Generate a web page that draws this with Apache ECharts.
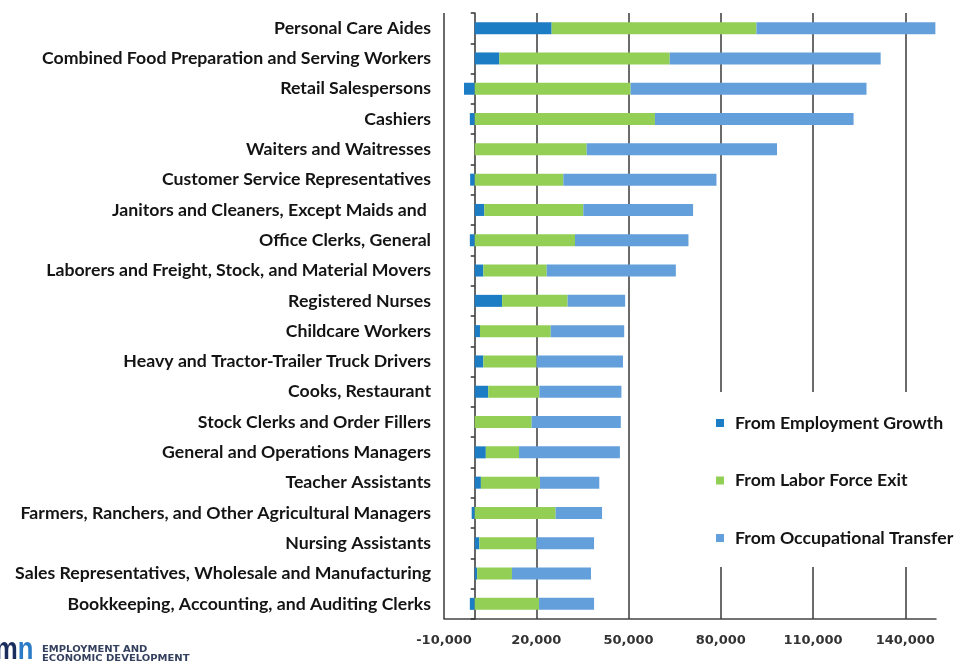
<!DOCTYPE html>
<html>
<head>
<meta charset="utf-8">
<script src="https://cdn.jsdelivr.net/npm/echarts@6/dist/echarts.min.js"></script>
<style>
  html, body { margin: 0; padding: 0; background: #fff; }
  #chart { width: 956px; height: 669px; }
</style>
</head>
<body>
<div id="chart"></div>
<script>
// Occupations, top to bottom
const occupations = [
  'Personal Care Aides',
  'Combined Food Preparation and Serving Workers',
  'Retail Salespersons',
  'Cashiers',
  'Waiters and Waitresses',
  'Customer Service Representatives',
  'Janitors and Cleaners, Except Maids and ',
  'Office Clerks, General',
  'Laborers and Freight, Stock, and Material Movers',
  'Registered Nurses',
  'Childcare Workers',
  'Heavy and Tractor-Trailer Truck Drivers',
  'Cooks, Restaurant',
  'Stock Clerks and Order Fillers',
  'General and Operations Managers',
  'Teacher Assistants',
  'Farmers, Ranchers, and Other Agricultural Managers',
  'Nursing Assistants',
  'Sales Representatives, Wholesale and Manufacturing',
  'Bookkeeping, Accounting, and Auditing Clerks'
];

// Projected openings by source
const employmentGrowth = [25000, 8000, -3500, -1600, 0, -1500, 3100, -1600, 2800, 8900,
                          1700, 2800, 4400, 0, 3600, 2000, -1000, 1500, 800, -1600];
const laborForceExit   = [66600, 55400, 50700, 58600, 36400, 28800, 32200, 32600, 20600, 21300,
                          23000, 17300, 16600, 18500, 10800, 19200, 26300, 18600, 11300, 20900];
const occupationalTransfer = [58200, 68600, 76700, 64600, 61900, 49800, 35700, 36900, 42000, 18700,
                          23900, 28100, 26700, 29000, 32800, 19300, 15100, 18700, 25700, 17900];

const seriesNames = ['From Employment Growth', 'From Labor Force Exit', 'From Occupational Transfer'];

// Value axis range and step
const axisMin = -10000;
const axisMax = 150000;
const axisStep = 30000;

const labelFont = 'Lato, "Open Sans", sans-serif';

const chart = echarts.init(document.getElementById('chart'), null, { renderer: 'canvas' });

const barStyle = { barWidth: 12, stack: 'openings' };

chart.setOption({
  animation: false,
  backgroundColor: '#ffffff',
  grid: { left: 444, right: 20, top: 13, bottom: 50, containLabel: false },
  xAxis: {
    type: 'value',
    min: axisMin,
    max: axisMax,
    interval: axisStep,
    axisLine: { show: true, lineStyle: { color: '#444', width: 1.5 } },
    axisTick: { show: false },
    axisLabel: {
      showMaxLabel: false,
      margin: 15,
      color: '#333',
      fontFamily: '"DejaVu Sans", sans-serif',
      fontWeight: 'bold',
      fontSize: 13,
      formatter: v => v.toLocaleString('en-US')
    },
    splitLine: {
      show: true,
      showMaxLine: false,
      lineStyle: { color: '#3a3a3a', width: 1.5 }
    }
  },
  yAxis: {
    type: 'category',
    inverse: true,
    data: occupations,
    axisLine: { show: true, onZero: true, lineStyle: { color: '#333', width: 1.5 } },
    axisTick: { show: true, length: 4, lineStyle: { color: '#333', width: 1.5 } },
    axisLabel: {
      margin: 13,
      color: '#141414',
      fontFamily: labelFont,
      fontWeight: 'bold',
      fontSize: 17.7
    }
  },
  legend: {
    orient: 'vertical',
    left: 712,
    top: 392,
    padding: [22, 16, 20, 4],
    backgroundColor: '#ffffff',
    icon: 'rect',
    itemWidth: 8,
    itemHeight: 8,
    itemGap: 39.5,
    data: seriesNames,
    textStyle: {
      color: '#141414',
      fontFamily: labelFont,
      fontWeight: 'bold',
      fontSize: 17.7,
      lineHeight: 17,
      padding: [0, 0, 0, 6]
    }
  },
  series: [
    Object.assign({ type: 'bar', name: seriesNames[0], data: employmentGrowth,
      itemStyle: { color: '#1c7dc4' } }, barStyle),
    Object.assign({ type: 'bar', name: seriesNames[1], data: laborForceExit,
      itemStyle: { color: '#93cf55' } }, barStyle),
    Object.assign({ type: 'bar', name: seriesNames[2], data: occupationalTransfer,
      itemStyle: { color: '#639fdb' } }, barStyle)
  ],
  graphic: [
    {
      type: 'text', x: -5, y: 634, scaleX: 0.8,
      style: {
        text: '{a|m}{b|n}',
        rich: {
          a: { fontFamily: '"Liberation Sans", sans-serif', fontWeight: 'bold', fontSize: 32, fill: '#1b2d5c' },
          b: { fontFamily: '"Liberation Sans", sans-serif', fontWeight: 'bold', fontSize: 32, fill: '#2b7bc6' }
        }
      }
    },
    {
      type: 'text', x: 42, y: 645, scaleX: 1.25,
      style: {
        text: 'EMPLOYMENT AND\nECONOMIC DEVELOPMENT',
        fontFamily: '"DejaVu Sans", sans-serif',
        fontWeight: 'bold',
        fontSize: 8,
        lineHeight: 9,
        fill: '#34405e'
      }
    }
  ]
});
</script>
</body>
</html>
